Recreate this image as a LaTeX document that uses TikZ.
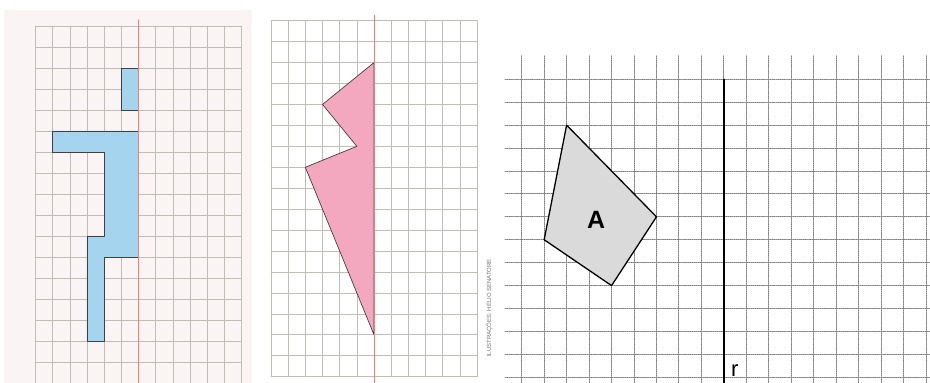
\documentclass[tikz,border=0pt]{standalone}
\usepackage{fontspec}
\setsansfont{Liberation Sans}
\usepackage{tikz}
\usepackage{xcolor}
\definecolor{gridline}{RGB}{190,190,178}
\definecolor{mirror}{RGB}{236,128,120}
\definecolor{bluefig}{RGB}{164,212,238}
\definecolor{pinkfig}{RGB}{244,168,192}
\definecolor{figA}{RGB}{218,218,218}
\definecolor{pagetint}{RGB}{251,244,245}

\begin{document}
\begin{tikzpicture}[x=1pt,y=1pt,line cap=round,font=\sffamily,
  papergrid/.style={draw=gridline,line width=0.6pt},
  mirrorline/.style={draw=mirror,line width=1pt},
  figline/.style={draw=black!75,line width=0.7pt,line join=round},
  dotgrid/.style={draw=black!50,line width=0.9pt,dash pattern=on 1pt off 1.1pt}]
\useasboundingbox (0,0) rectangle (930,383);
\clip (0,0) rectangle (930,383);
\fill[pagetint] (4,0) rectangle (252,373);

% left sheet: blue figure
\begin{scope}[shift={(35.48,357)},x=17.17pt,y=-21pt]
\foreach \i in {0,...,12} \draw[papergrid] (\i,0) -- (\i,17);
\foreach \j in {0,...,17} \draw[papergrid] (0,\j) -- (12,\j);
\filldraw[figline,fill=bluefig] (5,2) rectangle (6,4);
\filldraw[figline,fill=bluefig] (1,5) -- (6,5) -- (6,11) -- (4,11) -- (4,15) -- (3,15)
  -- (3,10) -- (4,10) -- (4,6) -- (1,6) -- cycle;
\draw[mirrorline] (6,-0.29) -- (6,17.2);
\end{scope}

% middle sheet: pink figure
\begin{scope}[shift={(271,362.3)},x=17.17pt,y=-20.94pt]
\foreach \i in {0,...,12} \draw[papergrid] (\i,0) -- (\i,17);
\foreach \j in {0,...,17} \draw[papergrid] (0,\j) -- (12,\j);
\filldraw[figline,fill=pinkfig] (6,2) -- (3,4) -- (5,6) -- (2,7) -- (6,15) -- cycle;
\draw[mirrorline] (6,-0.27) -- (6,17.4);
\end{scope}

\node[rotate=90,text=black!55,font=\sffamily\fontsize{6}{6}\selectfont] (credit) at (489,75)
  {ILUSTRAÇÕES: HÉLIO SENATORE};

% right sheet: figure A and line r
\begin{scope}[shift={(521.7,303.7)},x=22.46pt,y=-22.92pt]
\foreach \i in {0,...,18} \draw[dotgrid] (\i,-1.02) -- (\i,13.4);
\foreach \j in {0,...,13} \draw[dotgrid] (-0.74,\j) -- (18.3,\j);
\filldraw[fill=figA,draw=black,line width=1.3pt,line join=round]
  (2,2) -- (6,6) -- (4,9) -- (1,7) -- cycle;
\node (labelA) at (3.31,6.14) {\bfseries\fontsize{25}{25}\selectfont A};
\draw[black,line width=1.6pt] (9,0) -- (9,13.4);
\node[anchor=base west,inner sep=0pt,font=\sffamily\fontsize{22}{22}\selectfont] (labelr)
  at (9.32,12.95) {r};
\end{scope}
\end{tikzpicture}
\end{document}
